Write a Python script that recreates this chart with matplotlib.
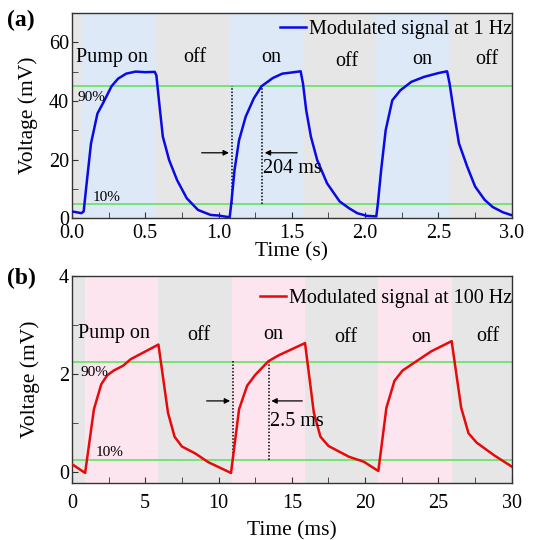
import matplotlib
matplotlib.use("Agg")
import matplotlib.pyplot as plt
from matplotlib.ticker import MultipleLocator

plt.rcParams["font.family"] = ["Liberation Serif", "DejaVu Serif"]

# (a) 1 Hz modulation, time in s, voltage in mV
t_a = [0.0, 0.065, 0.08, 0.098, 0.13, 0.174, 0.217, 0.27, 0.315, 0.37, 0.435, 0.5, 0.565,
       0.576, 0.598, 0.62, 0.663, 0.717, 0.783, 0.86, 0.946, 1.0, 1.076,
       1.087, 1.109, 1.14, 1.185, 1.24, 1.293, 1.37, 1.435, 1.5, 1.56,
       1.576, 1.598, 1.63, 1.673, 1.74, 1.826, 1.89, 1.946, 2.01, 2.076,
       2.087, 2.109, 2.14, 2.185, 2.24, 2.315, 2.402, 2.5, 2.559,
       2.576, 2.61, 2.64, 2.696, 2.75, 2.815, 2.87, 2.94, 3.0]
v_a = [2.3, 1.7, 2.3, 10.8, 25.5, 35.7, 39.7, 45.0, 47.6, 49.3, 50.0, 49.8, 49.9,
       48.7, 38.0, 27.8, 19.8, 13.0, 6.8, 2.8, 1.1, 0.9, 0.3,
       5.1, 16.4, 26.6, 34.6, 40.8, 45.0, 47.8, 49.3, 49.7, 50.1,
       45.9, 36.8, 27.8, 19.8, 11.9, 5.7, 3.4, 1.7, 0.8, 0.6,
       5.1, 16.4, 30.0, 40.2, 43.6, 46.5, 48.2, 49.5, 50.1,
       45.9, 34.6, 25.5, 17.6, 10.8, 6.25, 3.8, 2.0, 1.0]
on_a_start = [0.065, 1.077, 2.077]
on_a_end = [0.57, 1.575, 2.575]

# (b) 100 Hz modulation, time in ms, voltage in mV
t_b = [0.0, 0.9, 1.5, 2.0, 2.4, 2.85, 3.5, 4.0, 5.9, 6.55, 7.0, 7.5, 8.4, 9.3, 10.85,
       11.4, 11.95, 12.5, 13.4, 14.1, 15.9, 16.5, 16.95, 17.5, 18.9, 19.9, 20.9,
       21.45, 22.0, 22.55, 23.5, 24.5, 25.9, 26.55, 27.05, 27.6, 28.8, 30.0]
v_b = [0.16, -0.02, 1.28, 1.79, 1.97, 2.07, 2.17, 2.30, 2.60, 1.21, 0.72, 0.52, 0.38, 0.20, -0.02,
       1.28, 1.76, 1.98, 2.26, 2.38, 2.63, 1.21, 0.72, 0.53, 0.31, 0.21, 0.02,
       1.31, 1.86, 2.07, 2.26, 2.46, 2.67, 1.31, 0.79, 0.60, 0.34, 0.11]
on_b_start = [0.9, 10.9, 20.9]
on_b_end = [5.9, 15.9, 25.9]

state_labels = ["Pump on", "off", "on", "off", "on", "off"]
label_t_a = [0.27, 0.84, 1.36, 1.875, 2.39, 2.83]
label_v_a = [54.8, 54.8, 54.8, 53.6, 54.0, 54.0]
label_t_b = [2.85, 8.65, 13.7, 18.7, 23.8, 28.4]
label_v_b = [2.83, 2.79, 2.81, 2.75, 2.75, 2.76]

FS = 14.5
GRAY = "#e6e6e6"
GREEN = "#6ee36e"

fig = plt.figure(figsize=(5.45, 5.4), dpi=100)
ax1 = fig.add_axes([0.132, 0.596, 0.807, 0.380])
ax2 = fig.add_axes([0.132, 0.106, 0.807, 0.383])


def style_axes(ax):
    ax.set_facecolor(GRAY)
    for s in ax.spines.values():
        s.set_color("#333333")
        s.set_linewidth(1.0)
    ax.tick_params(which="both", direction="in", labelsize=FS, color="#333333",
                   top=False, right=False, length=4)
    ax.tick_params(axis="y", pad=2)


# ---- panel (a)
style_axes(ax1)
for a, b in zip(on_a_start, on_a_end):
    ax1.axvspan(a, b, color="#dde9f6", lw=0, zorder=0)
ax1.axhline(45, color=GREEN, lw=1.3, zorder=1)
ax1.axhline(5, color=GREEN, lw=1.3, zorder=1)
ax1.plot(t_a, v_a, color="#0a0ae6", lw=1.8, zorder=3, label="Modulated signal at 1 Hz")
ax1.vlines([1.09, 1.296], 5, 45, colors="black", linestyles=(0, (1, 1.2)), lw=1.1, zorder=2)
ax1.annotate("", xy=(1.09, 22.3), xytext=(0.866, 22.3),
             arrowprops=dict(arrowstyle="-|>", color="black", lw=0.9, mutation_scale=8))
ax1.annotate("", xy=(1.296, 22.3), xytext=(1.555, 22.3),
             arrowprops=dict(arrowstyle="-|>", color="black", lw=0.9, mutation_scale=8))
ax1.text(1.30, 17.0, "204 ms", fontsize=FS, va="center", ha="left")
ax1.text(0.04, 41.0, "90%", fontsize=11, va="center", ha="left")
ax1.text(0.14, 7.2, "10%", fontsize=11, va="center", ha="left")
for lab, x, y in zip(state_labels, label_t_a, label_v_a):
    ax1.text(x, y, lab, fontsize=FS, ha="center", va="center")
ax1.set_xlim(0, 3.0)
ax1.set_ylim(0, 70)
ax1.xaxis.set_minor_locator(MultipleLocator(0.25))
ax1.yaxis.set_major_locator(MultipleLocator(20))
ax1.yaxis.set_minor_locator(MultipleLocator(10))
ax1.set_xticks([0, 0.5, 1.0, 1.5, 2.0, 2.5, 3.0])
ax1.set_xticklabels(["0.0", "0.5", "1.0", "1.5", "2.0", "2.5", "3.0"])
ax1.tick_params(axis="x", pad=4)
ax1.set_xlabel("Time (s)", fontsize=FS + 1, labelpad=0)
ax1.set_ylabel("Voltage (mV)", fontsize=FS + 1, labelpad=8)
ax1.legend(loc="upper right", bbox_to_anchor=(1.0, 0.965), frameon=False, fontsize=FS,
           borderpad=0, borderaxespad=0, handlelength=1.3, handletextpad=0.1)
fig.text(0.012, 0.963, "(a)", fontsize=17, fontweight="bold", va="center")

# ---- panel (b)
style_axes(ax2)
for a, b in zip(on_b_start, on_b_end):
    ax2.axvspan(a, b, color="#fde5ef", lw=0, zorder=0)
ax2.axhline(2.24, color=GREEN, lw=1.3, zorder=1)
ax2.axhline(0.24, color=GREEN, lw=1.3, zorder=1)
ax2.plot(t_b, v_b, color="#e60a0a", lw=1.8, zorder=3, label="Modulated signal at 100 Hz")
ax2.vlines([10.98, 13.41], 0.24, 2.26, colors="black", linestyles=(0, (1, 1.2)), lw=1.1, zorder=2)
ax2.annotate("", xy=(10.98, 1.45), xytext=(9.0, 1.45),
             arrowprops=dict(arrowstyle="-|>", color="black", lw=0.9, mutation_scale=8))
ax2.annotate("", xy=(13.41, 1.45), xytext=(15.9, 1.45),
             arrowprops=dict(arrowstyle="-|>", color="black", lw=0.9, mutation_scale=8))
ax2.text(13.5, 1.03, "2.5 ms", fontsize=FS, va="center", ha="left")
ax2.text(0.6, 2.02, "90%", fontsize=11, va="center", ha="left")
ax2.text(1.6, 0.40, "10%", fontsize=11, va="center", ha="left")
for lab, x, y in zip(state_labels, label_t_b, label_v_b):
    ax2.text(x, y, lab, fontsize=FS, ha="center", va="center")
ax2.set_xlim(0, 30)
ax2.set_ylim(-0.22, 4)
ax2.xaxis.set_major_locator(MultipleLocator(5))
ax2.xaxis.set_minor_locator(MultipleLocator(2.5))
ax2.yaxis.set_major_locator(MultipleLocator(2))
ax2.yaxis.set_minor_locator(MultipleLocator(1))
ax2.tick_params(axis="x", pad=8)
ax2.set_xlabel("Time (ms)", fontsize=FS + 1, labelpad=6)
ax2.set_ylabel("Voltage (mV)", fontsize=FS + 1, labelpad=14)
ax2.legend(loc="upper right", bbox_to_anchor=(1.0, 0.935), frameon=False, fontsize=FS,
           borderpad=0, borderaxespad=0, handlelength=1.3, handletextpad=0.1)
fig.text(0.012, 0.485, "(b)", fontsize=17, fontweight="bold", va="center")

fig.savefig("out.png", dpi=100)
